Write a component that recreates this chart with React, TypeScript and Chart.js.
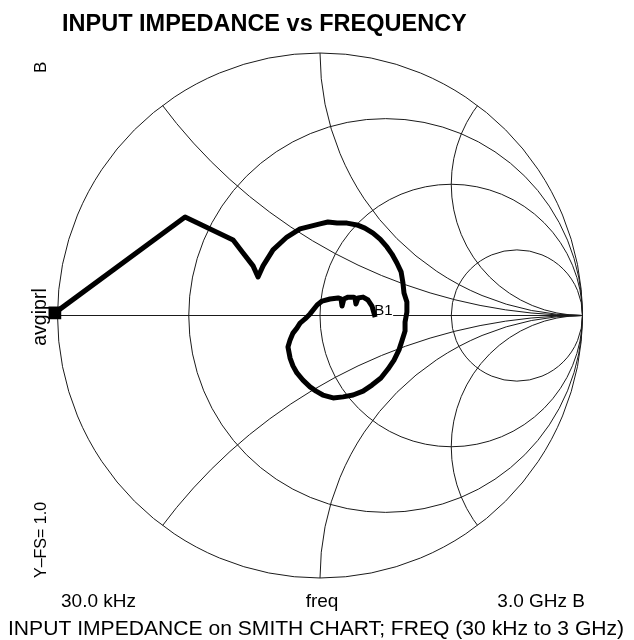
import React, { useEffect, useRef } from "react";
import { Chart, registerables } from "chart.js";

Chart.register(...registerables);

// Reflection coefficient (Gamma) trace, 30 kHz -> 3 GHz
const gammaRe = [
  -1.01, -0.514, -0.331, -0.293, -0.255, -0.236, -0.217, -0.179, -0.126, -0.076,
  0.0, 0.03, 0.065, 0.103, 0.141, 0.171, 0.202, 0.229, 0.255, 0.274,
  0.293, 0.309, 0.316, 0.32, 0.331, 0.331, 0.324, 0.324, 0.312, 0.301,
  0.282, 0.259, 0.232, 0.198, 0.164, 0.126, 0.088, 0.05, 0.011, -0.015,
  -0.038, -0.065, -0.088, -0.103, -0.114, -0.122, -0.114, -0.103, -0.088, -0.076,
  -0.057, -0.038, -0.011, 0.008, 0.038, 0.069, 0.08, 0.084, 0.091, 0.107,
  0.126, 0.133, 0.137, 0.145, 0.164, 0.183, 0.198, 0.21,
];
const gammaIm = [
  0.01, 0.375, 0.288, 0.238, 0.189, 0.147, 0.189, 0.25, 0.299, 0.33,
  0.349, 0.356, 0.352, 0.352, 0.345, 0.333, 0.314, 0.291, 0.261, 0.234,
  0.2, 0.166, 0.124, 0.086, 0.051, 0.013, -0.025, -0.059, -0.097, -0.131,
  -0.17, -0.204, -0.238, -0.265, -0.288, -0.303, -0.31, -0.314, -0.303, -0.288,
  -0.272, -0.246, -0.219, -0.192, -0.162, -0.12, -0.093, -0.067, -0.048, -0.029,
  -0.013, 0.006, 0.04, 0.055, 0.063, 0.067, 0.063, 0.036, 0.063, 0.07,
  0.07, 0.067, 0.044, 0.067, 0.07, 0.059, 0.036, -0.006,
];

// Smith chart graticule
const resistanceCircles = [1 / 3, 1, 3];
const reactanceArcs = [0.5, 1, 2];

const titleText = "INPUT IMPEDANCE vs FREQUENCY";
const startLabel = "30.0 kHz";
const centerLabel = "freq";
const stopLabel = "3.0 GHz B";
const captionText = "INPUT IMPEDANCE on SMITH CHART; FREQ (30 kHz to 3 GHz)";
const sideLabels = ["B", "avgiprl", "Y\u2013FS= 1.0"];
const markerLabel = "B1";

const FONT = '"Liberation Sans", Arial, Helvetica, sans-serif';

const smithGrid = {
  id: "smithGrid",
  beforeDatasetsDraw(chart: any) {
    const { ctx, scales } = chart;
    const xs = scales.x;
    const ys = scales.y;
    const cx = xs.getPixelForValue(0);
    const cy = ys.getPixelForValue(0);
    const Rx = (xs.getPixelForValue(1) - xs.getPixelForValue(-1)) / 2;
    const Ry = (ys.getPixelForValue(-1) - ys.getPixelForValue(1)) / 2;
    ctx.save();
    ctx.strokeStyle = "#1a1a1a";
    ctx.lineWidth = 1;
    // outer circle
    ctx.beginPath();
    ctx.ellipse(cx, cy, Rx, Ry, 0, 0, Math.PI * 2);
    ctx.stroke();
    // real axis
    ctx.beginPath();
    ctx.moveTo(xs.getPixelForValue(-1), cy);
    ctx.lineTo(xs.getPixelForValue(1), cy);
    ctx.stroke();
    // resistance circles
    resistanceCircles.forEach((r) => {
      const c = r / (1 + r);
      const rad = 1 / (1 + r);
      ctx.beginPath();
      ctx.ellipse(xs.getPixelForValue(c), cy, rad * Rx, rad * Ry, 0, 0, Math.PI * 2);
      ctx.stroke();
    });
    // reactance arcs clipped to the unit circle
    ctx.save();
    ctx.beginPath();
    ctx.ellipse(cx, cy, Rx, Ry, 0, 0, Math.PI * 2);
    ctx.clip();
    reactanceArcs.forEach((x) => {
      [1, -1].forEach((s) => {
        ctx.beginPath();
        ctx.ellipse(
          xs.getPixelForValue(1),
          ys.getPixelForValue(s / x),
          Rx / x,
          Ry / x,
          0,
          0,
          Math.PI * 2
        );
        ctx.stroke();
      });
    });
    ctx.restore();
    // marker label with white box
    const n = gammaRe.length - 1;
    const lx = xs.getPixelForValue(gammaRe[n]);
    const ly = ys.getPixelForValue(gammaIm[n]);
    ctx.fillStyle = "#fff";
    ctx.fillRect(lx + 1, ly - 14, 17, 16);
    ctx.fillStyle = "#000";
    ctx.font = `15px ${FONT}`;
    ctx.textAlign = "left";
    ctx.textBaseline = "alphabetic";
    ctx.fillText(markerLabel, lx - 1, ly - 2);
    ctx.restore();
  },
};

const textPlugin = {
  id: "smithText",
  afterDraw(chart: any) {
    const { ctx } = chart;
    ctx.save();
    ctx.fillStyle = "#000";
    ctx.textBaseline = "alphabetic";
    // title
    ctx.font = `bold 23.5px ${FONT}`;
    ctx.textAlign = "left";
    ctx.fillText(titleText, 62, 31);
    // bottom row
    ctx.font = `19px ${FONT}`;
    ctx.textAlign = "left";
    ctx.fillText(startLabel, 61, 607);
    ctx.textAlign = "center";
    ctx.fillText(centerLabel, 322, 607);
    ctx.textAlign = "right";
    ctx.fillText(stopLabel, 585, 607);
    // caption
    ctx.font = `21.1px ${FONT}`;
    ctx.textAlign = "left";
    ctx.fillText(captionText, 8, 635);
    // rotated side labels
    const pos = [
      { y: 73, align: "left", size: 17 },
      { y: 317, align: "center", size: 19.5 },
      { y: 578, align: "left", size: 16 },
    ];
    sideLabels.forEach((t, i) => {
      ctx.save();
      ctx.font = `${pos[i].size}px ${FONT}`;
      ctx.translate(46, pos[i].y);
      ctx.rotate(-Math.PI / 2);
      ctx.textAlign = pos[i].align;
      ctx.fillText(t, 0, 0);
      ctx.restore();
    });
    ctx.restore();
  },
};

export default function App() {
  const canvasRef = useRef<HTMLCanvasElement | null>(null);

  useEffect(() => {
    if (!canvasRef.current) return;
    const chart = new Chart(canvasRef.current, {
      type: "scatter",
      data: {
        datasets: [
          {
            data: gammaRe.map((u, i) => ({ x: u, y: gammaIm[i] })),
            showLine: true,
            borderColor: "#000",
            borderWidth: 5,
            borderJoinStyle: "round",
            tension: 0,
            pointStyle: "rect",
            pointRadius: (c: any) => (c.dataIndex === 0 ? 9 : 0),
            pointBackgroundColor: "#000",
            pointBorderWidth: 0,
            clip: false as any,
          },
        ],
      },
      options: {
        animation: false,
        responsive: false,
        devicePixelRatio: 1,
        layout: { padding: { left: 57.5, right: 51.5, top: 53, bottom: 62 } },
        scales: {
          x: { type: "linear", min: -1, max: 1, display: false },
          y: { type: "linear", min: -1, max: 1, display: false },
        },
        plugins: {
          legend: { display: false },
          tooltip: { enabled: false },
          title: { display: false },
        },
      },
      plugins: [smithGrid, textPlugin],
    });
    return () => chart.destroy();
  }, []);

  return (
    <div style={{ position: "fixed", left: 0, top: 0, width: 634, height: 640, background: "#fff" }}>
      <canvas ref={canvasRef} width={634} height={640} style={{ width: 634, height: 640, display: "block" }} />
    </div>
  );
}
